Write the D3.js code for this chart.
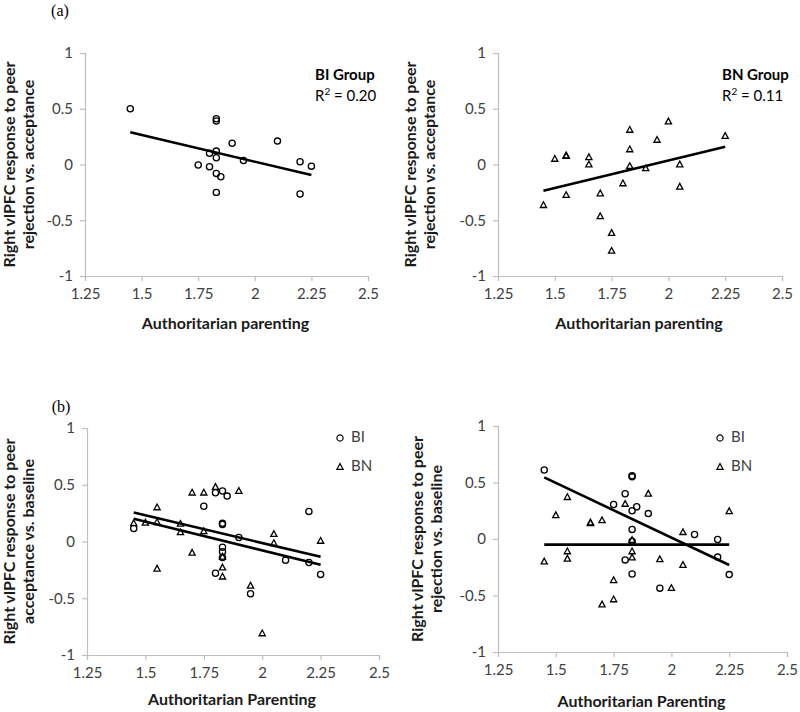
<!DOCTYPE html>
<html>
<head>
<meta charset="utf-8">
<script src="https://cdn.jsdelivr.net/npm/d3@7"></script>
<style>
  body { margin: 0; background: #fff; }
  text { font-family: Lato, "Open Sans", sans-serif; }
</style>
</head>
<body>
<div id="chart"></div>
<script>
// axis ticks shared by all four panels
const xTicks = [1.25, 1.5, 1.75, 2, 2.25, 2.5];
const yTicks = [-1, -0.5, 0, 0.5, 1];

// (a) left: BI group, rejection vs. acceptance
const aBI = [
  [1.45, 0.5], [1.83, 0.41], [1.83, 0.39], [1.9, 0.19], [2.1, 0.21],
  [1.83, 0.12], [1.8, 0.1], [1.83, 0.06], [1.95, 0.035], [1.75, -0.005],
  [1.8, -0.02], [1.83, -0.08], [1.85, -0.11], [1.83, -0.25], [2.2, 0.025],
  [2.25, -0.015], [2.2, -0.265]
];
const aBITrend = [[1.45, 0.29], [2.25, -0.095]];

// (a) right: BN group, rejection vs. acceptance
const aBN = [
  [1.45, -0.365], [1.5, 0.05], [1.55, 0.08], [1.55, 0.075], [1.55, -0.275],
  [1.65, 0.065], [1.65, 0.0], [1.7, -0.26], [1.7, -0.465], [1.75, -0.615],
  [1.75, -0.775], [1.8, -0.17], [1.83, 0.31], [1.83, 0.135], [1.83, -0.015],
  [1.9, -0.035], [1.95, 0.22], [2.0, 0.385], [2.05, 0.0], [2.05, -0.2],
  [2.25, 0.255]
];
const aBNTrend = [[1.45, -0.235], [2.25, 0.16]];

// (b) left: acceptance vs. baseline
const bAccBI = [
  [1.45, 0.115], [1.75, 0.31], [1.8, 0.43], [1.83, 0.445], [1.85, 0.4],
  [1.83, 0.16], [1.83, 0.15], [1.83, -0.05], [1.83, -0.09], [1.83, -0.14],
  [1.8, -0.28], [1.9, 0.035], [1.95, -0.46], [2.1, -0.165], [2.2, 0.265],
  [2.2, -0.185], [2.25, -0.29]
];
const bAccBN = [
  [1.45, 0.16], [1.5, 0.165], [1.55, 0.3], [1.55, 0.17], [1.55, -0.24],
  [1.65, 0.155], [1.65, 0.08], [1.7, 0.43], [1.7, -0.1], [1.75, 0.43],
  [1.75, 0.09], [1.8, 0.48], [1.83, -0.135], [1.83, -0.23], [1.83, -0.31],
  [1.9, 0.445], [1.95, -0.39], [2.0, -0.81], [2.05, 0.065], [2.05, -0.015],
  [2.25, 0.005]
];
const bAccBITrend = [[1.45, 0.2], [2.25, -0.205]];
const bAccBNTrend = [[1.45, 0.255], [2.25, -0.135]];

// (b) right: rejection vs. baseline
const bRejBI = [
  [1.45, 0.61], [1.75, 0.305], [1.8, 0.4], [1.83, 0.56], [1.83, 0.55],
  [1.83, 0.25], [1.85, 0.285], [1.83, 0.085], [1.9, 0.225], [1.8, -0.185],
  [1.83, -0.31], [1.95, -0.435], [2.1, 0.04], [2.2, -0.005], [2.2, -0.16],
  [2.25, -0.315], [1.83, -0.02]
];
const bRejBN = [
  [1.45, -0.2], [1.5, 0.21], [1.55, 0.37], [1.55, -0.11], [1.55, -0.175],
  [1.65, 0.145], [1.65, 0.14], [1.7, 0.165], [1.75, -0.365], [1.75, -0.535],
  [1.7, -0.58], [1.8, 0.31], [1.83, -0.01], [1.83, -0.11], [1.83, -0.165],
  [1.9, 0.4], [1.95, -0.18], [2.0, -0.435], [2.05, 0.06], [2.05, -0.23],
  [2.25, 0.245]
];
const bRejBITrend = [[1.45, 0.545], [2.25, -0.23]];
const bRejBNTrend = [[1.45, -0.05], [2.25, -0.05]];

const width = 800, height = 712;
const svg = d3.select("#chart").append("svg")
  .attr("width", width)
  .attr("height", height);

const AXIS = "#bfbfbf";
const TICKTXT = "#404040";

const triPath = "M0,-3.4L3.1,2.3L-3.1,2.3Z";

const panels = [
  {
    x0: 85, x1: 368, y0: 53, y1: 276,
    yTitle: ["Right vlPFC response to peer", "rejection vs. acceptance"], yTitleX: 11,
    xTitle: "Authoritarian parenting", xTitleY: 325,
    series: [{ pts: aBI, shape: "circle" }],
    trends: [aBITrend],
    group: { label: "BI Group", r2: "0.20", x: 315, y: 80 }
  },
  {
    x0: 498, x1: 782, y0: 53, y1: 276,
    yTitle: ["Right vlPFC response to peer", "rejection vs. acceptance"], yTitleX: 412,
    xTitle: "Authoritarian parenting", xTitleY: 325,
    series: [{ pts: aBN, shape: "tri" }],
    trends: [aBNTrend],
    group: { label: "BN Group", r2: "0.11", x: 722, y: 80 }
  },
  {
    x0: 87, x1: 379, y0: 428, y1: 655,
    yTitle: ["Right vlPFC response to peer", "acceptance vs. baseline"], yTitleX: 11,
    xTitle: "Authoritarian Parenting", xTitleY: 701,
    series: [{ pts: bAccBN, shape: "tri" }, { pts: bAccBI, shape: "circle" }],
    trends: [bAccBITrend, bAccBNTrend],
    legend: { x: 340, y: 438 }
  },
  {
    x0: 498, x1: 787, y0: 426, y1: 652,
    yTitle: ["Right vlPFC response to peer", "rejection vs. baseline"], yTitleX: 419,
    xTitle: "Authoritarian Parenting", xTitleY: 703,
    series: [{ pts: bRejBN, shape: "tri" }, { pts: bRejBI, shape: "circle" }],
    trends: [bRejBITrend, bRejBNTrend],
    legend: { x: 720, y: 438 }
  }
];

panels.forEach(p => {
  const x = d3.scaleLinear().domain([1.25, 2.5]).range([p.x0, p.x1]);
  const y = d3.scaleLinear().domain([-1, 1]).range([p.y1, p.y0]);
  const g = svg.append("g");

  // axes
  const xAxis = g.append("g")
    .attr("transform", `translate(0,${p.y1})`)
    .call(d3.axisBottom(x).tickValues(xTicks).tickSize(5).tickPadding(7)
      .tickFormat(d => String(d)));
  const yAxis = g.append("g")
    .attr("transform", `translate(${p.x0},0)`)
    .call(d3.axisLeft(y).tickValues(yTicks).tickSize(5).tickPadding(7)
      .tickFormat(d => String(d)));
  [xAxis, yAxis].forEach(a => {
    a.select(".domain").attr("stroke", AXIS).attr("stroke-width", 1.2);
    a.selectAll(".tick line").attr("stroke", AXIS).attr("stroke-width", 1.2);
    a.selectAll(".tick text")
      .attr("fill", TICKTXT)
      .style("font-size", "15px")
      .style("font-family", "Lato, 'Open Sans', sans-serif");
  });

  // axis titles
  g.append("text")
    .attr("x", (p.x0 + p.x1) / 2 - 1)
    .attr("y", p.xTitleY)
    .attr("text-anchor", "middle")
    .attr("dominant-baseline", "middle")
    .attr("font-weight", "bold")
    .attr("font-size", "16px")
    .attr("fill", "#1a1a1a")
    .text(p.xTitle);

  const cy = (p.y0 + p.y1) / 2;
  p.yTitle.forEach((line, i) => {
    const tx = p.yTitleX + i * 19;
    g.append("text")
      .attr("transform", `translate(${tx},${cy}) rotate(-90)`)
      .attr("text-anchor", "middle")
      .attr("dominant-baseline", "middle")
      .attr("font-weight", "bold")
      .attr("font-size", "16px")
      .attr("fill", "#1a1a1a")
      .text(line);
  });

  // trend lines
  const line = d3.line().x(d => x(d[0])).y(d => y(d[1]));
  p.trends.forEach(t => {
    g.append("path")
      .datum(t)
      .attr("d", line)
      .attr("fill", "none")
      .attr("stroke", "#000")
      .attr("stroke-width", 2.6);
  });

  // markers
  p.series.forEach(s => {
    const sel = g.append("g").selectAll(null).data(s.pts);
    if (s.shape === "circle") {
      sel.join("circle")
        .attr("cx", d => x(d[0]))
        .attr("cy", d => y(d[1]))
        .attr("r", 3.1)
        .attr("fill", "none")
        .attr("stroke", "#000")
        .attr("stroke-width", 1.3);
    } else {
      sel.join("path")
        .attr("d", triPath)
        .attr("transform", d => `translate(${x(d[0])},${y(d[1])})`)
        .attr("fill", "none")
        .attr("stroke", "#000")
        .attr("stroke-width", 1.3);
    }
  });

  // group label with R²
  if (p.group) {
    g.append("text")
      .attr("x", p.group.x).attr("y", p.group.y)
      .attr("font-weight", "bold")
      .attr("font-size", "15px")
      .attr("fill", "#000")
      .text(p.group.label);
    const r = g.append("text")
      .attr("x", p.group.x).attr("y", p.group.y + 21)
      .attr("font-size", "15px")
      .attr("fill", "#000");
    r.append("tspan").text("R");
    r.append("tspan").attr("dy", -6).attr("font-size", "10px").text("2");
    r.append("tspan").attr("dy", 6).text(" = " + p.group.r2);
  }

  // legend
  if (p.legend) {
    const lg = g.append("g").attr("transform", `translate(${p.legend.x},${p.legend.y})`);
    lg.append("circle").attr("cx", 0).attr("cy", 0).attr("r", 3.1)
      .attr("fill", "none").attr("stroke", "#000").attr("stroke-width", 1.2);
    lg.append("text").attr("x", 11).attr("y", 0)
      .attr("dominant-baseline", "middle").attr("font-size", "15px")
      .attr("fill", TICKTXT).text("BI");
    lg.append("path").attr("d", triPath).attr("transform", "translate(0,29)")
      .attr("fill", "none").attr("stroke", "#000").attr("stroke-width", 1.2);
    lg.append("text").attr("x", 11).attr("y", 29)
      .attr("dominant-baseline", "middle").attr("font-size", "15px")
      .attr("fill", TICKTXT).text("BN");
  }
});

// panel letters
[["(a)", 60, 12], ["(b)", 61, 408]].forEach(([t, px, py]) => {
  svg.append("text")
    .attr("x", px).attr("y", py)
    .attr("text-anchor", "middle")
    .attr("dominant-baseline", "middle")
    .style("font-family", "'Liberation Serif', 'DejaVu Serif', serif")
    .attr("font-size", "16px")
    .attr("fill", "#000")
    .text(t);
});
</script>
</body>
</html>
